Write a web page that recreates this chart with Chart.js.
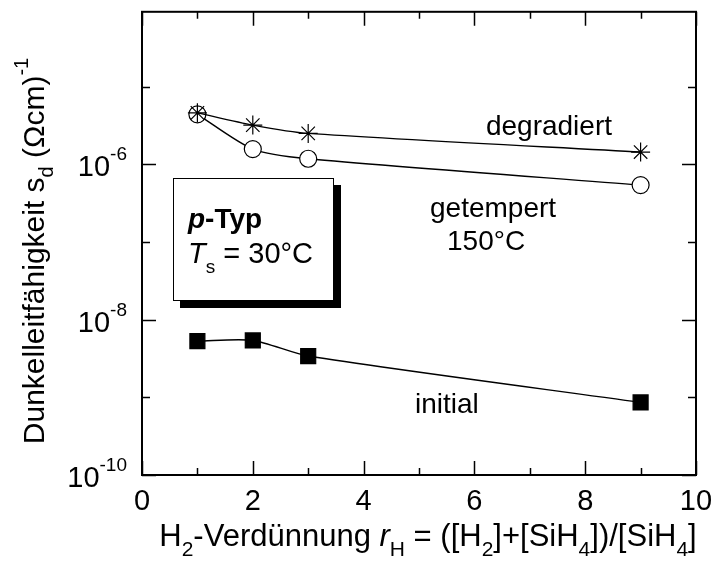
<!DOCTYPE html>
<html>
<head>
<meta charset="utf-8">
<script src="https://cdn.jsdelivr.net/npm/chart.js@4.4.0/dist/chart.umd.min.js"></script>
<style>
  html, body { margin: 0; padding: 0; background: #fff; }
  #wrap { width: 715px; height: 561px; }
</style>
</head>
<body>
<div id="wrap"><canvas id="chart"></canvas></div>
<script>
// data
const xValues = [1, 2, 3, 9];
const degradiert = [4.6e-6, 3.2e-6, 2.5e-6, 1.44e-6];
const getempert = [4.4e-6, 1.57e-6, 1.18e-6, 5.4e-7];
const initial = [5.3e-9, 5.4e-9, 3.4e-9, 8.6e-10];

// axes
const xMajor = [0, 2, 4, 6, 8, 10];
const xMinor = [1, 3, 5, 7, 9];
const yMajorExp = [-10, -8, -6, -4];
const yMinorExp = [-9, -7, -5];
const yLabelExp = [-10, -8, -6];

const FONT = "'Liberation Sans', Arial, sans-serif";

function pts(ys) {
  return xValues.map((x, i) => ({ x: x, y: ys[i] }));
}

function fnt(p) {
  return (p.style || "") + " " + (p.size || 30) + "px " + FONT;
}

// draw a line of text made of pieces (for sub/superscripts, italics)
function rich(ctx, parts, x, y, align) {
  let w = 0;
  parts.forEach(p => {
    ctx.font = fnt(p);
    p.w = ctx.measureText(p.t).width;
    w += p.w;
  });
  let cx = align === "center" ? x - w / 2 : align === "right" ? x - w : x;
  ctx.textAlign = "left";
  ctx.textBaseline = "alphabetic";
  parts.forEach(p => {
    ctx.font = fnt(p);
    ctx.fillText(p.t, cx, y + (p.dy || 0));
    cx += p.w;
  });
}

const decor = {
  id: "decor",
  afterDraw(chart) {
    const ctx = chart.ctx;
    const a = chart.chartArea;
    const xs = chart.scales.x, ys = chart.scales.y;
    ctx.save();
    ctx.fillStyle = "#000";
    ctx.strokeStyle = "#000";

    // frame
    ctx.lineWidth = 2;
    ctx.strokeRect(a.left, a.top, a.right - a.left, a.bottom - a.top);

    // inward ticks on all four sides
    ctx.lineWidth = 1.5;
    ctx.beginPath();
    xMajor.concat(xMinor).forEach(v => {
      const len = xMajor.includes(v) ? 14 : 7;
      const px = Math.round(xs.getPixelForValue(v)) + 0.5;
      ctx.moveTo(px, a.bottom); ctx.lineTo(px, a.bottom - len);
      ctx.moveTo(px, a.top); ctx.lineTo(px, a.top + len);
    });
    yMajorExp.concat(yMinorExp).forEach(e => {
      const v = Math.pow(10, e);
      if (v > ys.max || v < ys.min) return;
      const len = yMajorExp.includes(e) ? 14 : 8;
      const py = Math.round(ys.getPixelForValue(v)) + 0.5;
      ctx.moveTo(a.left, py); ctx.lineTo(a.left + len, py);
      ctx.moveTo(a.right, py); ctx.lineTo(a.right - len, py);
    });
    ctx.stroke();

    // x tick labels
    ctx.font = "29px " + FONT;
    ctx.textAlign = "center";
    ctx.textBaseline = "alphabetic";
    xMajor.forEach(v => {
      ctx.fillText(String(v), xs.getPixelForValue(v), 510);
    });

    // y tick labels 10^n
    yLabelExp.forEach(e => {
      const py = ys.getPixelForValue(Math.pow(10, e));
      rich(ctx, [
        { t: "10", size: 29 },
        { t: String(e), size: 19, dy: -16 }
      ], 127, py + 12, "right");
    });

    // x axis title
    rich(ctx, [
      { t: "H", size: 31 }, { t: "2", size: 21, dy: 10 },
      { t: "-Verdünnung ", size: 31 }, { t: "r", style: "italic", size: 31 }, { t: "H", size: 21, dy: 10 },
      { t: " = ([H", size: 31 }, { t: "2", size: 21, dy: 10 },
      { t: "]+[SiH", size: 31 }, { t: "4", size: 21, dy: 10 },
      { t: "])/[SiH", size: 31 }, { t: "4", size: 21, dy: 10 }, { t: "]", size: 31 }
    ], 428, 546, "center");

    // y axis title (rotated)
    ctx.save();
    ctx.translate(44, 251);
    ctx.rotate(-Math.PI / 2);
    rich(ctx, [
      { t: "Dunkelleitfähigkeit s" }, { t: "d", size: 20, dy: 9 },
      { t: " (Ωcm)" }, { t: "-1", size: 20, dy: -16 }
    ], 0, 0, "center");
    ctx.restore();

    // curve labels
    rich(ctx, [{ t: "degradiert", size: 28 }], 612, 135, "right");
    rich(ctx, [{ t: "getempert", size: 28 }], 430, 217, "left");
    rich(ctx, [{ t: "150°C", size: 28 }], 447, 250, "left");
    rich(ctx, [{ t: "initial", size: 28 }], 415, 413, "left");

    // sample box with shadow
    ctx.fillRect(180, 185, 161, 123);
    ctx.fillStyle = "#fff";
    ctx.fillRect(173, 178, 160, 122);
    ctx.lineWidth = 1;
    ctx.strokeStyle = "#000";
    ctx.strokeRect(173.5, 178.5, 160, 122);
    ctx.fillStyle = "#000";
    rich(ctx, [
      { t: "p", style: "italic bold", size: 28 }, { t: "-Typ", style: "bold", size: 28 }
    ], 188, 228, "left");
    rich(ctx, [
      { t: "T", style: "italic", size: 29 }, { t: "s", size: 19, dy: 10 }, { t: " = 30°C", size: 29 }
    ], 188, 263, "left");

    ctx.restore();
  }
};

const lineCommon = {
  borderColor: "#000",
  borderWidth: 1.4,
  tension: 0.25,
  pointBorderColor: "#000",
  pointBorderWidth: 1.2,
  fill: false
};

new Chart(document.getElementById("chart").getContext("2d"), {
  type: "line",
  data: {
    datasets: [
      Object.assign({}, lineCommon, {
        label: "degradiert",
        data: pts(degradiert),
        pointStyle: "star",
        pointRadius: 9.5,
        pointBackgroundColor: "#fff"
      }),
      Object.assign({}, lineCommon, {
        label: "getempert",
        data: pts(getempert),
        pointStyle: "circle",
        pointRadius: 8.5,
        pointBackgroundColor: "#fff"
      }),
      Object.assign({}, lineCommon, {
        label: "initial",
        data: pts(initial),
        pointStyle: "rect",
        pointRadius: 10.6,
        pointBackgroundColor: "#000"
      })
    ]
  },
  options: {
    responsive: true,
    maintainAspectRatio: false,
    animation: false,
    layout: { padding: { left: 142, right: 19, top: 11, bottom: 86 } },
    plugins: {
      legend: { display: false },
      tooltip: { enabled: false }
    },
    scales: {
      x: {
        type: "linear",
        display: false,
        min: 0,
        max: 10
      },
      y: {
        type: "logarithmic",
        display: false,
        min: 1e-10,
        max: 9.2e-5
      }
    }
  },
  plugins: [decor]
});
</script>
</body>
</html>
